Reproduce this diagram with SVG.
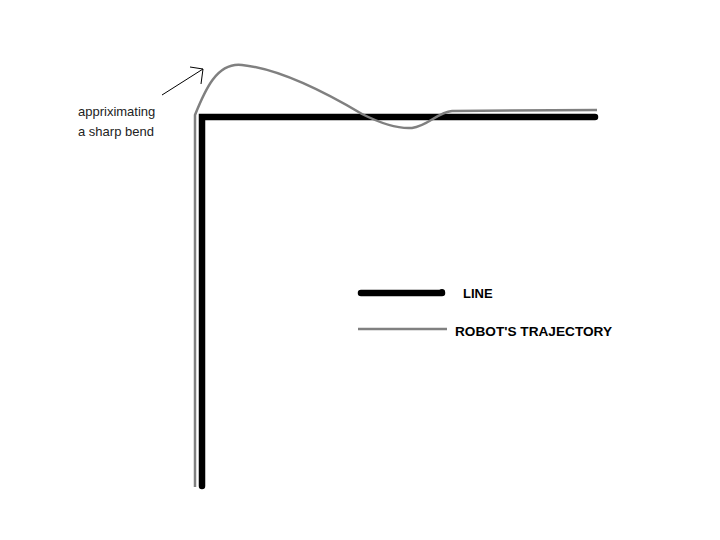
<svg xmlns="http://www.w3.org/2000/svg" width="720" height="540" viewBox="0 0 720 540">
<style>
.line{fill:none;stroke:#000;stroke-width:6.5;stroke-linecap:round;stroke-linejoin:miter}
.traj{fill:none;stroke:#808080;stroke-width:2.5;stroke-linejoin:round}
.note{font-family:"Liberation Sans",Arial,sans-serif;font-size:13px;fill:#222}
.leg{font-family:"Liberation Sans",Arial,sans-serif;font-size:13px;font-weight:bold;fill:#000}
.arr{fill:none;stroke:#000;stroke-width:1}
</style>
<rect width="720" height="540" fill="#fff"/>
<g id="connectors">
<path id="black-line" class="line" d="M202,486 L202,117 L595,117"/>
<path id="trajectory" class="traj" d="M195,487 L195,115 C205,90 217,62 242,65 C282,69 335,98 362,114 C382,124 398,129 412,128 C428,126 438,112 452,111 L597,110"/>
<path id="pointer" class="arr" d="M162,95 L203,69 M190,67 L203,69 L201,84"/>
</g>
<g id="annotation">
<text class="note" x="78" y="116">appriximating</text>
<text class="note" x="78" y="136">a sharp bend</text>
</g>
<g id="legend-line">
<line class="line" x1="361" y1="293" x2="442" y2="293" stroke-width="5"/>
<circle cx="442" cy="292" r="3"/>
<text class="leg" x="463" y="298">LINE</text>
</g>
<g id="legend-trajectory">
<line class="traj" x1="358" y1="329" x2="447" y2="329"/>
<text class="leg" x="455" y="336" textLength="157" lengthAdjust="spacingAndGlyphs">ROBOT'S TRAJECTORY</text>
</g>
</svg>
